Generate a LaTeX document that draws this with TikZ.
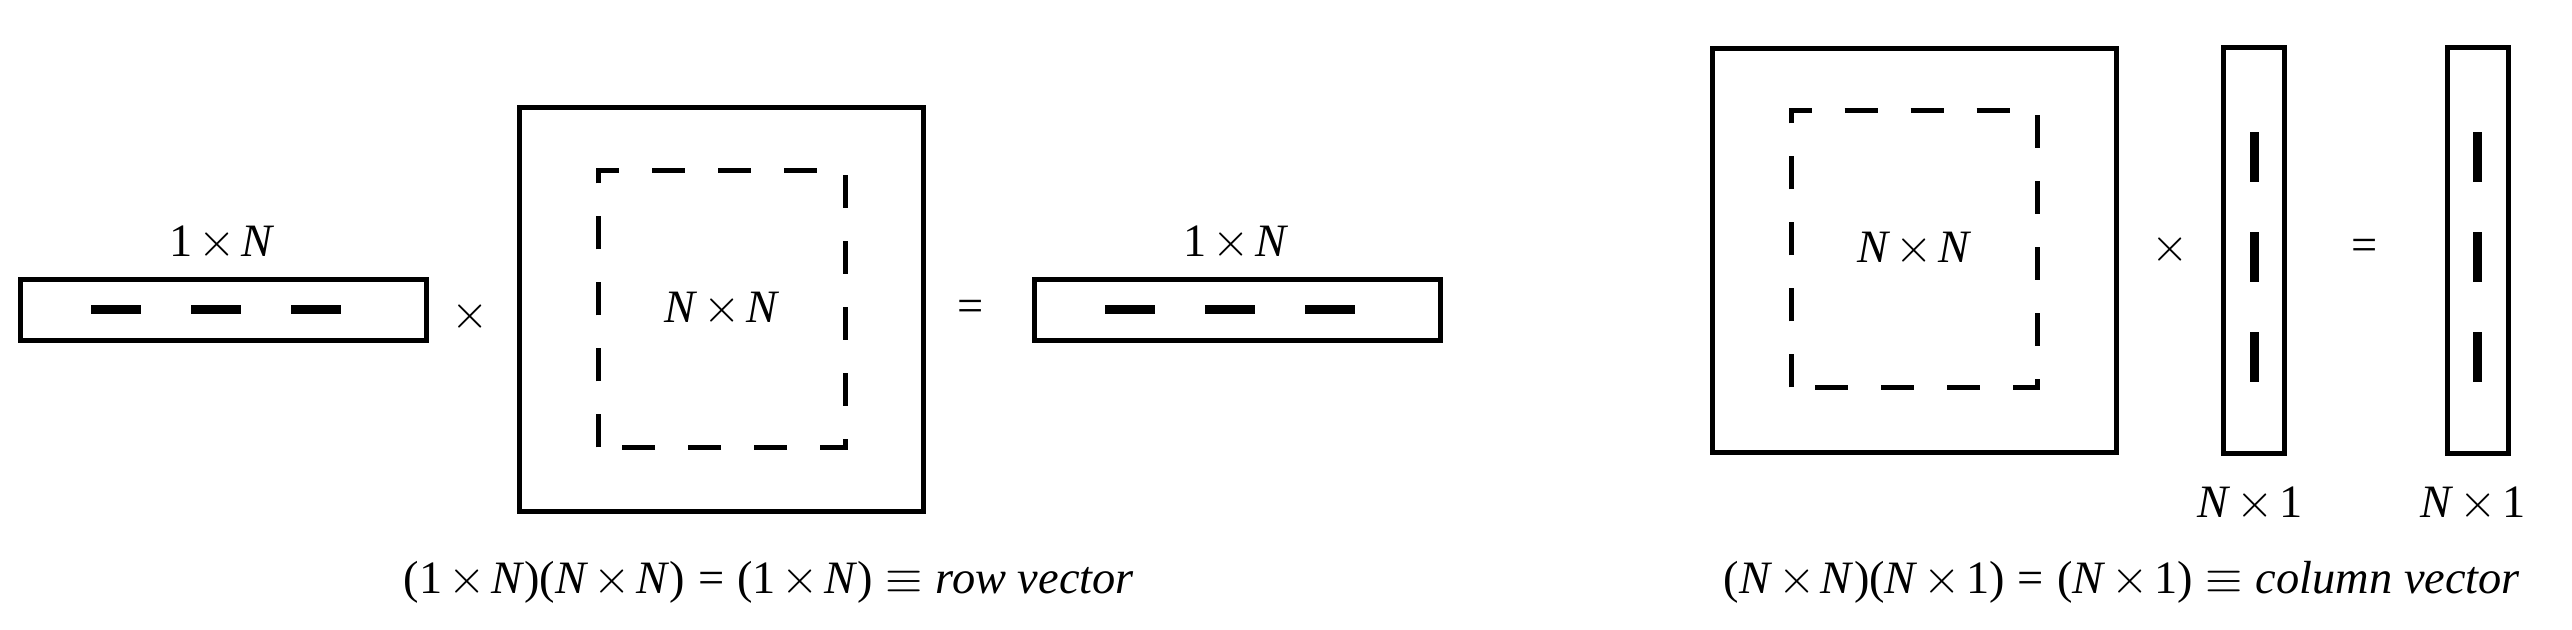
\documentclass[tikz,border=0pt]{standalone}
\usepackage{fontspec}
\setmainfont{Liberation Serif}
\newcommand{\Nn}{\textit{N}}
\newcommand{\tms}{\hspace{0.12em}$\times$\hspace{0.12em}}
\newcommand{\rel}[1]{\hspace{0.2778em}#1\hspace{0.2778em}}

\begin{document}
\begin{tikzpicture}[x=0.25pt, y=0.25pt,
    font=\fontsize{11.6pt}{14pt}\selectfont,
    outline/.style={draw, line width=1.25pt, inner sep=0pt},
    sqbox/.style={outline, minimum size=101pt},
    rowbox/.style={outline, minimum width=101.5pt, minimum height=15.25pt},
    colbox/.style={outline, minimum width=15.25pt, minimum height=101.5pt},
    subbox/.style={inner sep=0pt, minimum width=61.25pt, minimum height=68.75pt},
    dashline/.style={line width=1.25pt, dash pattern=on 8.25pt off 8.25pt},
    entry/.style={line width=2.25pt},
    lbl/.style={anchor=base, inner sep=0pt}]
  \useasboundingbox (0,0) rectangle (2572,630);

  % row vector times matrix
  \node[rowbox] (rowA) at (223.5,320) {};
  \node (timesA) at (470,313.5) {$\times$};
  \node[sqbox] (matA) at (721.5,320.5) {};
  \node[subbox] (subA) at (722,321) {\Nn\tms\Nn};
  \node (eqA) at (970.5,319.5) {=};
  \node[rowbox] (rowB) at (1237.5,320) {};
  \node[lbl] (dimA) at (222,373) {1\tms\Nn};
  \node[lbl] (dimB) at (1236,373) {1\tms\Nn};
  \node[lbl] (ruleA) at (769,36) {(1\tms\Nn)(\Nn\tms\Nn)\rel{=}(1\tms\Nn)\rel{$\equiv$}\textit{row vector}};

  % matrix times column vector
  \node[sqbox] (matB) at (1914.5,379.5) {};
  \node[subbox] (subB) at (1914.5,381) {\Nn\tms\Nn};
  \node (timesB) at (2170.5,380) {$\times$};
  \node[colbox] (colA) at (2254,379.5) {};
  \node (eqB) at (2364.5,380) {=};
  \node[colbox] (colB) at (2477.5,379.5) {};
  \node[lbl] (dimC) at (2250,112) {\Nn\tms 1};
  \node[lbl] (dimD) at (2473,112) {\Nn\tms 1};
  \node[lbl] (ruleB) at (2122,36) {(\Nn\tms\Nn)(\Nn\tms 1)\rel{=}(\Nn\tms 1)\rel{$\equiv$}\textit{column vector}};

  % entries and inner blocks
  \foreach \v in {rowA,rowB}
    \foreach \d in {-132.5,-32.5,67.5}
      \draw[entry] (\v.center) ++(\d,0) -- ++(50,0);
  \foreach \v in {colA,colB}
    \foreach \d in {68.5,-31.5,-131.5}
      \draw[entry] (\v.center) ++(0,\d) -- ++(0,50);
  \foreach \s in {subA,subB}
    \draw[dashline] (\s.south west) -- (\s.north west) -- (\s.north east) -- (\s.south east) -- cycle;
\end{tikzpicture}
\end{document}
